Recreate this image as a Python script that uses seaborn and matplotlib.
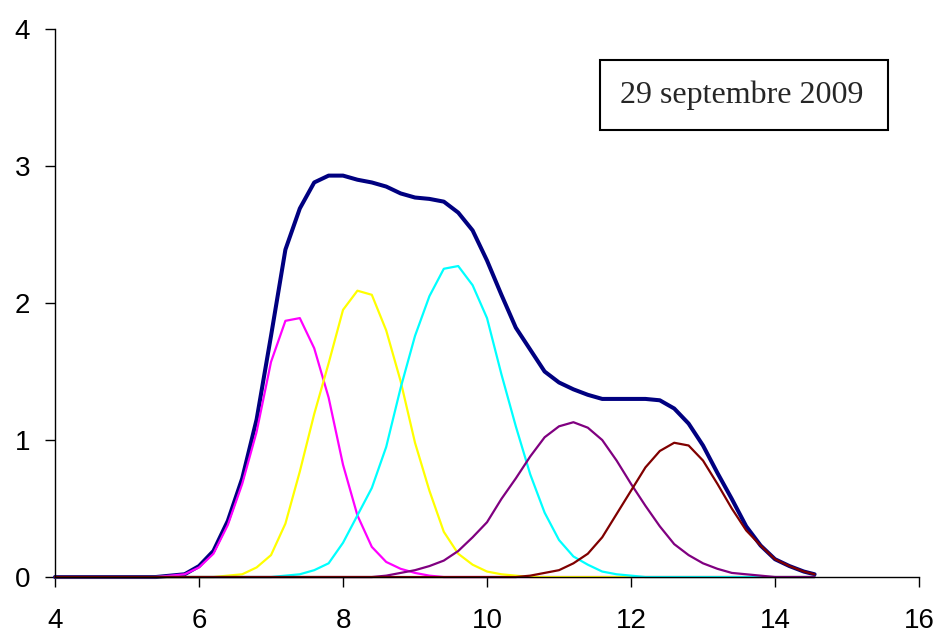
import matplotlib
matplotlib.use('Agg')
import matplotlib.pyplot as plt
import seaborn as sns
from matplotlib.patches import Rectangle


# Data (x grid shared by every curve)
x = [4.0, 5.4, 5.6, 5.8, 6.0, 6.2, 6.4, 6.6, 6.8, 7.0, 7.2, 7.4,
     7.6, 7.8, 8.0, 8.2, 8.4, 8.6, 8.8, 9.0, 9.2, 9.4, 9.6, 9.8,
     10.0, 10.2, 10.4, 10.6, 10.8, 11.0, 11.2, 11.4, 11.6, 11.8, 12.0, 12.2,
     12.4, 12.6, 12.8, 13.0, 13.2, 13.4, 13.6, 13.8, 14.0, 14.2, 14.4, 14.55]

total = [0, 0, 0.01, 0.02, 0.08, 0.19, 0.41, 0.72, 1.15, 1.76, 2.39, 2.69,
         2.88, 2.93, 2.93, 2.90, 2.88, 2.85, 2.80, 2.77, 2.76, 2.74, 2.66, 2.53,
         2.31, 2.06, 1.82, 1.66, 1.50, 1.42, 1.37, 1.33, 1.30, 1.30, 1.30, 1.30,
         1.29, 1.23, 1.12, 0.96, 0.76, 0.57, 0.37, 0.23, 0.13, 0.08, 0.04, 0.02]

magenta = [0, 0, 0.01, 0.02, 0.07, 0.17, 0.38, 0.68, 1.06, 1.57, 1.87, 1.89,
           1.67, 1.31, 0.82, 0.45, 0.22, 0.11, 0.06, 0.03, 0.01, 0, 0, 0,
           0, 0, 0, 0, 0, 0, 0, 0, 0, 0, 0, 0,
           0, 0, 0, 0, 0, 0, 0, 0, 0, 0, 0, 0]

yellow = [0, 0, 0, 0, 0, 0, 0.01, 0.02, 0.07, 0.16, 0.39, 0.77,
          1.19, 1.56, 1.95, 2.09, 2.06, 1.80, 1.43, 0.98, 0.63, 0.33, 0.17, 0.09,
          0.04, 0.02, 0.01, 0, 0, 0, 0, 0, 0, 0, 0, 0,
          0, 0, 0, 0, 0, 0, 0, 0, 0, 0, 0, 0]

cyan = [0, 0, 0, 0, 0, 0, 0, 0, 0, 0, 0.01, 0.02,
        0.05, 0.10, 0.25, 0.45, 0.65, 0.95, 1.38, 1.76, 2.05, 2.25, 2.27, 2.13,
        1.89, 1.48, 1.10, 0.75, 0.47, 0.27, 0.15, 0.09, 0.04, 0.02, 0.01, 0,
        0, 0, 0, 0, 0, 0, 0, 0, 0, 0, 0, 0]

purple = [0, 0, 0, 0, 0, 0, 0, 0, 0, 0, 0, 0,
          0, 0, 0, 0, 0, 0.01, 0.03, 0.05, 0.08, 0.12, 0.19, 0.29,
          0.40, 0.57, 0.72, 0.88, 1.02, 1.10, 1.13, 1.09, 1.00, 0.85, 0.68, 0.52,
          0.37, 0.24, 0.16, 0.10, 0.06, 0.03, 0.02, 0.01, 0, 0, 0, 0]

maroon = [0, 0, 0, 0, 0, 0, 0, 0, 0, 0, 0, 0,
          0, 0, 0, 0, 0, 0, 0, 0, 0, 0, 0, 0,
          0, 0, 0, 0.01, 0.03, 0.05, 0.10, 0.17, 0.29, 0.46, 0.63, 0.80,
          0.92, 0.98, 0.96, 0.85, 0.68, 0.50, 0.34, 0.23, 0.13, 0.08, 0.04, 0.02]

x_ticks = [4, 6, 8, 10, 12, 14, 16]
y_ticks = [0, 1, 2, 3, 4]
date_label = '29 septembre 2009'

# Style
sns.set_style('ticks')
plt.rcParams['font.family'] = ['Liberation Sans', 'DejaVu Sans']

fig = plt.figure(figsize=(9.42, 6.35), dpi=100)
ax = fig.add_axes([0.0584, 0.0913, 0.9172, 0.8630])

# Sum curve first, then the components on top
sns.lineplot(x=x, y=total, color='#000080', linewidth=2.9, ax=ax, clip_on=False)
components = [(magenta, '#FF00FF'), (yellow, '#FFFF00'), (cyan, '#00FFFF'),
              (purple, '#800080'), (maroon, '#800000')]
for values, col in components:
    sns.lineplot(x=x, y=values, color=col, linewidth=1.6, ax=ax, clip_on=False)

ax.set_xlim(4, 16)
ax.set_ylim(0, 4)
ax.set_xticks(x_ticks)
ax.set_yticks(y_ticks)
ax.tick_params(axis='both', labelsize=20, length=7, width=1, color='black',
               labelcolor='black')
ax.tick_params(axis='x', pad=15)
ax.tick_params(axis='y', pad=11)
sns.despine(ax=ax)
for side in ['left', 'bottom']:
    ax.spines[side].set_color('black')
    ax.spines[side].set_linewidth(1)

# Date box
fig.patches.append(Rectangle((0.637, 0.7953), 0.3057, 0.1102, transform=fig.transFigure,
                             facecolor='white', edgecolor='black', linewidth=1.5))
fig.text(0.787, 0.8378, date_label, ha='center', va='baseline', fontsize=23,
         family=['Liberation Serif', 'DejaVu Serif'])

fig.savefig('out.png', dpi=100, facecolor='white')
